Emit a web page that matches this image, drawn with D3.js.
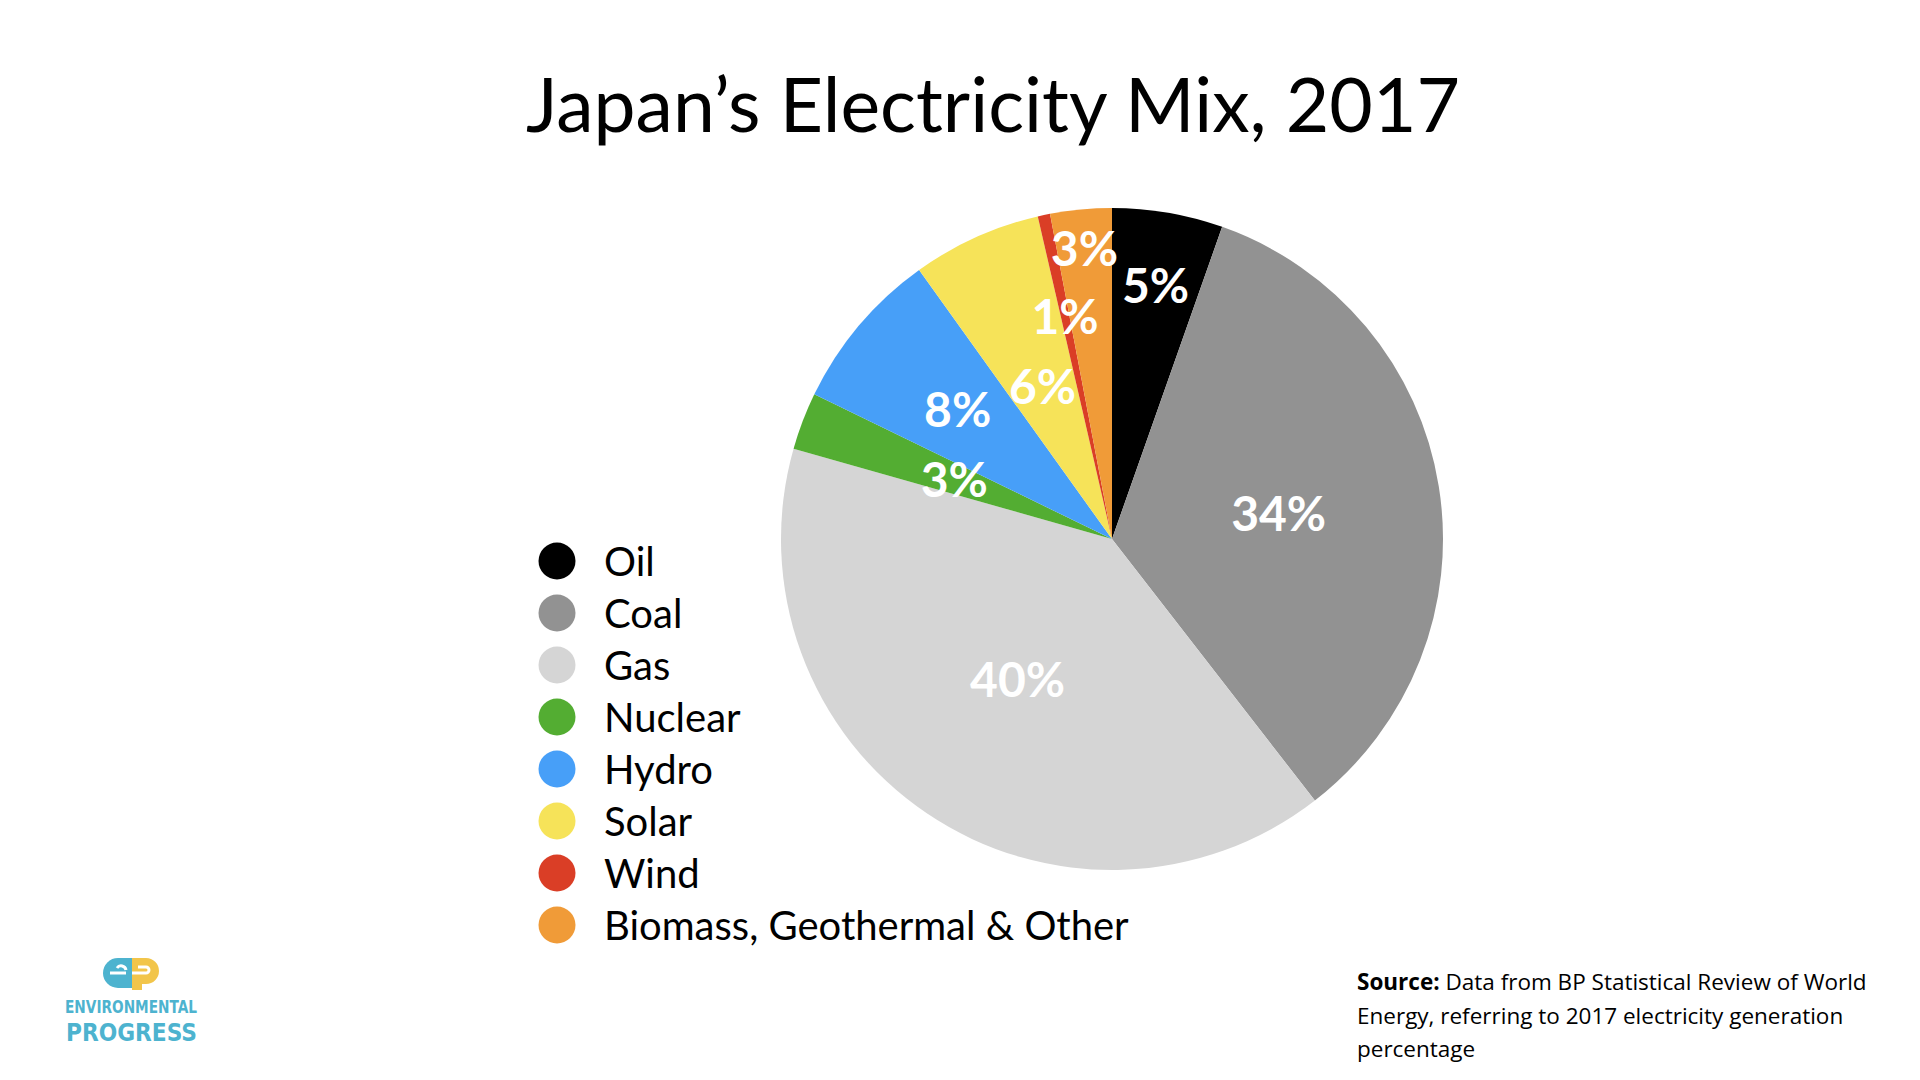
<!DOCTYPE html>
<html><head><meta charset="utf-8">
<script src="https://cdn.jsdelivr.net/npm/d3@7"></script>
<style>html,body{margin:0;padding:0;background:#fff;}svg{display:block;}</style>
</head><body>
<svg id="chart" width="1920" height="1080"></svg>
<script>
const categories = ["Oil","Coal","Gas","Nuclear","Hydro","Solar","Wind","Biomass, Geothermal & Other"];
const shares = [5.4, 34.1, 39.9, 2.8, 7.9, 6.3, 0.6, 3.0];
const labels = ["5%","34%","40%","3%","8%","6%","1%","3%"];
const colors = ["#000000","#929292","#d5d5d5","#53ad32","#479ff8","#f6e359","#da3e26","#f09b38"];
const labelRadiusFrac = [0.78, 0.51, 0.51, 0.51, 0.61, 0.51, 0.69, 0.885];

const svg = d3.select("#chart");
const cx = 1112, cy = 539, R = 331;

svg.append("text").attr("x", 993).attr("y", 132).attr("text-anchor","middle")
  .attr("font-family","Lato, 'Open Sans', sans-serif").attr("font-size", 76).attr("fill","#000")
  .attr("textLength", 934).attr("lengthAdjust","spacingAndGlyphs")
  .text("Japan’s Electricity Mix, 2017");

const data = categories.map((c,i)=>({name:c, value:shares[i], label:labels[i], color:colors[i], lr:labelRadiusFrac[i]}));
const pie = d3.pie().sort(null).value(d=>d.value);
const arcs = pie(data);
const arc = d3.arc().innerRadius(0).outerRadius(R);
const g = svg.append("g").attr("transform",`translate(${cx},${cy})`);
g.selectAll("path").data(arcs).join("path").attr("d", arc).attr("fill", d=>d.data.color);
g.selectAll("text").data(arcs).join("text")
  .attr("x", d=>{const a=(d.startAngle+d.endAngle)/2; return Math.sin(a)*R*d.data.lr;})
  .attr("y", d=>{const a=(d.startAngle+d.endAngle)/2; return -Math.cos(a)*R*d.data.lr;})
  .attr("text-anchor","middle").attr("dominant-baseline","central")
  .attr("font-family","Lato, sans-serif").attr("font-weight",700).attr("font-size",48)
  .attr("fill","#fff").text(d=>d.data.label);

const legend = svg.append("g");
const ly = d3.scalePoint().domain(categories).range([561, 925]);
const items = legend.selectAll("g").data(data).join("g").attr("transform", d=>`translate(0,${ly(d.name)})`);
items.append("circle").attr("cx",557).attr("cy",0).attr("r",18.5).attr("fill",d=>d.color);
items.append("text").attr("x",604).attr("y",0).attr("dominant-baseline","central")
  .attr("font-family","Lato, sans-serif").attr("font-size",40).attr("fill","#000").text(d=>d.name);

const src = svg.append("text").attr("font-family","'Open Sans', Lato, sans-serif").attr("font-size",22.5).attr("fill","#000");
src.append("tspan").attr("x",1357).attr("y",990).attr("font-weight",700).text("Source:");
src.append("tspan").text(" Data from BP Statistical Review of World");
src.append("tspan").attr("x",1357).attr("y",1024).text("Energy, referring to 2017 electricity generation");
src.append("tspan").attr("x",1357).attr("y",1057).text("percentage");

// logo
const logo = svg.append("g");
const blue = "#4db3cf", yellow = "#f2c54a";
logo.append("path").attr("d","M118,958 L132,958 L132,988 L118,988 A15,15 0 0 1 118,958 Z").attr("fill",blue);
logo.append("path").attr("d","M132,958 L146,958 A13,13 0 0 1 146,984 L142,984 L142,990 L132,990 Z").attr("fill",yellow);
logo.append("path").attr("d","M110,973 L126,973 M117,968 A5,5 0 0 1 126,970").attr("stroke","#fff").attr("stroke-width",3).attr("fill","none");
logo.append("path").attr("d","M132,973 L146,973 A3,3 0 0 0 146,967 L138,967").attr("stroke","#fff").attr("stroke-width",3).attr("fill","none");
logo.append("text").attr("x",65).attr("y",1013).attr("textLength",132).attr("lengthAdjust","spacingAndGlyphs")
  .attr("font-family","'DejaVu Sans Condensed', 'Liberation Sans Narrow', sans-serif").attr("font-weight",700).attr("font-size",18).attr("fill",blue).text("ENVIRONMENTAL");
logo.append("text").attr("x",66).attr("y",1041).attr("textLength",131).attr("lengthAdjust","spacingAndGlyphs")
  .attr("font-family","'DejaVu Sans Condensed', 'Liberation Sans Narrow', sans-serif").attr("font-weight",700).attr("font-size",25).attr("fill",blue).text("PROGRESS");
</script>
</body></html>
